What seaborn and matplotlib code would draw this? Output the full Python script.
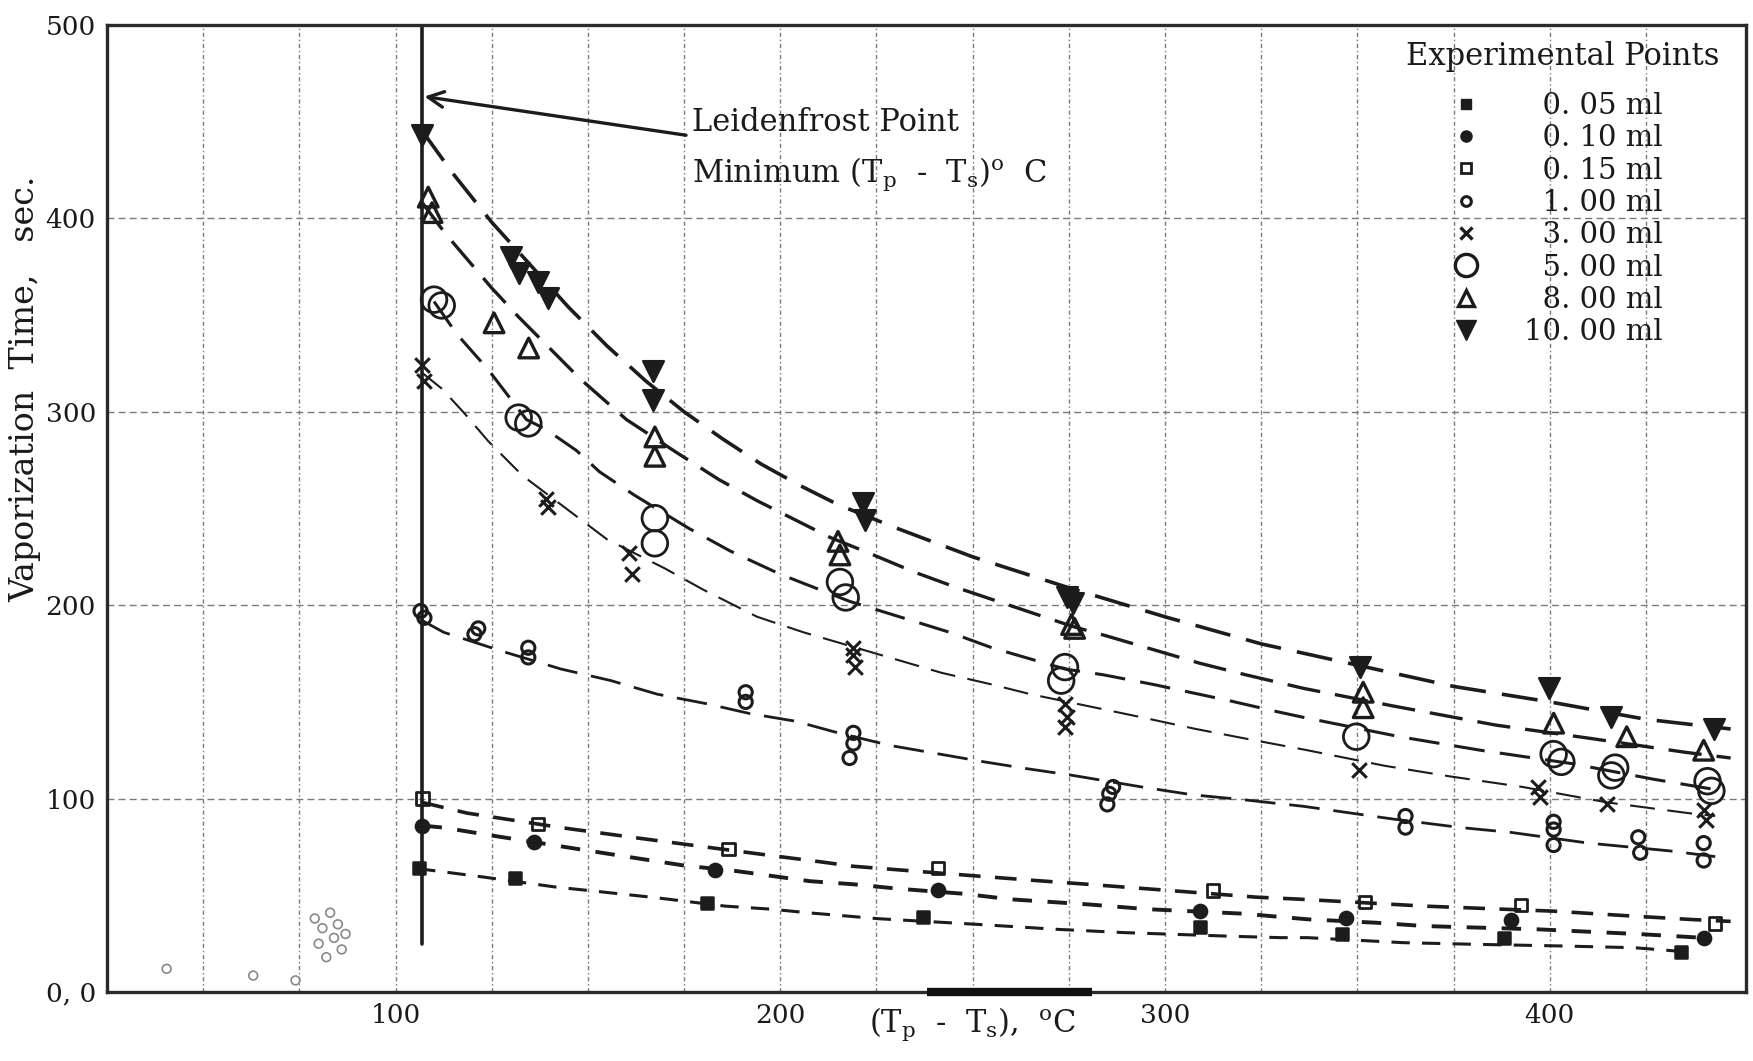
import numpy as np
import pandas as pd
import matplotlib
matplotlib.use("Agg")
import matplotlib.pyplot as plt
from matplotlib.lines import Line2D
import seaborn as sns

# ---------------- data ----------------
# Experimental points, x = (Tp - Ts) degC, y = vaporization time (s)
p005_x = [106, 131, 181, 237, 309, 346, 388, 434]
p005_y = [64, 59, 46, 39, 33.5, 30, 28, 20.5]

p010_x = [107, 136, 183, 241, 309, 347, 390, 440]
p010_y = [86, 77.5, 63, 52.5, 42, 38.5, 37, 28]

p015_x = [107, 137, 186.5, 241, 312.5, 352, 392.5, 443]
p015_y = [100, 87, 74, 64, 52.5, 46.5, 45, 35.5]

p1_x = [106.5, 107.5, 121.5, 120.5, 134.5, 134.5, 191, 191, 219, 219, 218,
        286.5, 285.5, 285, 362.5, 362.5, 401, 401, 401, 423, 423.5, 440, 440]
p1_y = [197, 193.5, 188, 185, 178, 173, 155, 150, 134, 128.5, 121,
        106, 102.5, 97, 91, 85, 88, 84, 76, 80, 72, 77, 68]

p3_x = [107, 107.5, 139, 139.5, 160.7, 161.5, 219, 219, 219.5, 274, 274.5, 274,
        350.5, 397, 397.5, 415, 440, 440.5]
p3_y = [324, 316, 255, 251, 227, 216, 178, 174, 168, 149, 142, 137,
        115, 106, 101, 97, 94, 89]

p5_x = [110, 112, 132, 134.5, 167.4, 167.4, 215.5, 217, 274, 273, 349.7,
        401, 403, 417, 416, 441, 442]
p5_y = [358, 355, 297, 294, 245, 232, 212, 204, 168, 161, 132,
        123, 119, 116, 112, 109, 104]

p8_x = [108.5, 109.5, 125.6, 134.6, 167.4, 167.4, 215, 215.5, 275.7, 276.5,
        351.5, 351.5, 401, 420, 440]
p8_y = [411, 403, 346, 333, 287, 277, 233, 226, 190, 188,
        155, 147, 139, 132, 125]

p10_x = [107, 130, 132, 137, 139.5, 167, 167, 221.5, 222, 274.4, 276.1,
         350.6, 399.8, 416, 442.6]
p10_y = [443, 380, 372, 367, 359, 321, 306, 253, 244, 204, 201,
         168, 157, 142, 136]

# stray marks in the low-temperature (nucleate boiling) region
stray_x = [40.5, 63, 74, 79, 81, 83, 84, 85, 86, 82, 87, 80]
stray_y = [12, 8.5, 6, 38, 33, 41, 28, 35, 22, 18, 30, 25]

# Dashed fitted curves
c10_x = [107, 115, 125, 135, 145, 155, 165, 175, 185, 195, 205, 215, 230, 250,
         275, 300, 325, 350, 375, 400, 425, 447]
c10_y = [445, 423, 398, 376, 354, 334, 316, 300, 286, 273, 262, 252, 240, 225,
         209, 194, 180, 169, 158, 150, 141, 136]

c8_x = [107, 113, 125, 132, 148, 160, 173, 184, 194, 204, 213, 223, 235, 246,
        276, 285, 309, 321, 336, 359, 386, 411, 435, 447]
c8_y = [408, 392, 364, 349, 317, 296, 279, 265, 254, 244, 235, 227, 217, 209,
        189, 184, 170, 164, 157, 148, 138, 131, 124, 121]

c5_x = [110, 116, 124, 134, 139, 147, 153, 162, 176, 187, 200, 218, 244, 255,
        274, 284, 297, 317, 329, 336, 361, 382, 406, 427, 445]
c5_y = [357, 340, 322, 296, 291, 280, 269, 257, 240, 228, 216, 202, 186, 178,
        167, 164, 159, 150.5, 145, 142, 132, 125, 118, 110, 104]

c3_x = [107, 112, 118, 124, 133, 147, 155, 170, 180, 194, 206, 230, 242, 255,
        265, 282, 294, 308, 321, 337, 357, 374, 393, 415, 436, 443]
c3_y = [320, 312, 299, 285, 267, 246, 234, 219, 208, 194, 186, 172, 165, 159,
        154, 147, 142, 136, 131, 125, 117, 111.5, 106, 98, 92.5, 91]

c1_x = [107, 112.5, 128, 143, 156, 168, 181, 192, 204, 215, 228.5, 240, 253,
        264, 276, 294, 307, 320, 336, 359, 377, 390, 410, 431, 443]
c1_y = [192, 186, 176, 167, 161, 154, 149, 144, 140, 134, 127.5, 123.5, 119,
        115.5, 112, 106, 102, 99.5, 96, 89.5, 85, 82.5, 77, 73, 70]

c015_x = [107, 118.6, 143, 163, 180.5, 198.6, 209, 219, 249, 266, 280.5, 303,
          324, 335, 367.5, 401, 422, 437.6, 447]
c015_y = [98, 92.5, 85, 79.6, 75, 70.3, 67.7, 65, 60.3, 57.7, 55.6, 52.2,
          49, 48, 44.4, 41.8, 39.2, 37.4, 36.5]

c010_x = [107, 112.5, 126, 142.4, 159, 175, 188.7, 207.7, 219, 230.7, 247.6,
          260, 280, 295.6, 320.3, 337, 355, 367.5, 397, 424.6, 440]
c010_y = [86, 85, 80.6, 75.5, 70.3, 65.4, 62.5, 57.3, 55.7, 53.4, 50.8,
          47.9, 45.3, 42.8, 40.5, 37.6, 35.8, 34.1, 32.4, 29.8, 28]

c005_x = [105.6, 111, 123, 141.5, 151.5, 167.5, 185.7, 197.8, 207, 225.5, 251,
          272, 289.5, 316, 330, 337, 362, 382, 403, 422, 434]
c005_y = [63.8, 62.5, 59.4, 54.3, 52.2, 48.8, 44.4, 42.8, 41, 37.9, 35,
          32.4, 30.7, 28.9, 28.1, 28.1, 25.5, 24.6, 23.8, 22.9, 21]

legend_title = "Experimental Points"
legend_labels = ["\u20070. 05 ml", "\u20070. 10 ml", "\u20070. 15 ml", "\u20071. 00 ml",
                 "\u20073. 00 ml", "\u20075. 00 ml", "\u20078. 00 ml", "10. 00 ml"]
x_tick_values = [100, 200, 300, 400]
y_tick_values = [0, 100, 200, 300, 400, 500]
y_tick_labels = ["0, 0", "100", "200", "300", "400", "500"]
leidenfrost_x = 107

# ---------------- styling ----------------
sns.set_theme(style="white")
plt.rcParams["font.family"] = ["DejaVu Serif"]
plt.rcParams["mathtext.fontset"] = "dejavuserif"

INK = "#1c1c1c"
TXT = "#1a1a1a"
fig = plt.figure(figsize=(17.53, 10.61), dpi=100)
ax = fig.add_axes([107 / 1753, 1 - 992 / 1061, (1746 - 107) / 1753, (992 - 25) / 1061])
ax.set_xlim(25, 451)
ax.set_ylim(0, 500)

# grid
for gx in range(50, 450, 25):
    ax.axvline(gx, color="#7a7a7a", lw=1.0, ls=(0, (3, 2, 1, 2)), zorder=0)
for gy in [100, 200, 300, 400]:
    ax.axhline(gy, color="#7a7a7a", lw=1.0, ls=(0, (5, 3)), zorder=0)
# heavy Leidenfrost line
ax.axvline(leidenfrost_x, ymin=0.05, ymax=1.0, color=INK, lw=2.6, zorder=1)

# fitted dashed curves
curves = [
    (c10_x, c10_y, 2.6, (0, (10, 4.5))),
    (c8_x, c8_y, 2.4, (0, (10, 4.5))),
    (c5_x, c5_y, 2.2, (0, (10, 5))),
    (c3_x, c3_y, 1.5, (0, (12, 6))),
    (c1_x, c1_y, 2.0, (0, (11, 5))),
    (c015_x, c015_y, 2.6, (0, (6, 4))),
    (c010_x, c010_y, 2.8, (0, (5, 4))),
    (c005_x, c005_y, 2.2, (0, (6, 4))),
]
for cx, cy, lw, ls in curves:
    sns.lineplot(x=cx, y=cy, ax=ax, color=INK, lw=lw, linestyle=ls,
                 sort=False, estimator=None, zorder=2)

# experimental points
def pts(x, y, marker, size, filled=True, lw=1.8):
    if filled:
        sns.scatterplot(x=x, y=y, ax=ax, marker=marker, s=size, color=INK,
                        edgecolor=INK, linewidth=lw, zorder=3)
    else:
        sns.scatterplot(x=x, y=y, ax=ax, marker=marker, s=size, facecolor="none",
                        edgecolor=INK, linewidth=lw, zorder=3)

pts(p005_x, p005_y, "s", 70)
pts(p010_x, p010_y, "o", 90)
pts(p015_x, p015_y, "s", 80, filled=False, lw=2.0)
pts(p1_x, p1_y, "o", 90, filled=False, lw=2.2)
sns.scatterplot(x=p3_x, y=p3_y, ax=ax, marker="x", s=110, color=INK, linewidth=2.2, zorder=3)
pts(p5_x, p5_y, "o", 340, filled=False, lw=2.0)
pts(p8_x, p8_y, "^", 200, filled=False, lw=2.4)
pts(p10_x, p10_y, "v", 220)
sns.scatterplot(x=stray_x, y=stray_y, ax=ax, marker="o", s=40, facecolor="none",
                edgecolor="#888888", linewidth=1.2, zorder=3)

# spines
for sp in ax.spines.values():
    sp.set_visible(True)
    sp.set_color("#2a2a2a")
    sp.set_linewidth(2.4)
ax.plot([238, 281], [0, 0], color="#111111", lw=6, solid_capstyle="butt",
        clip_on=False, zorder=5)

# ticks
ax.set_xticks(x_tick_values)
ax.set_xticklabels([str(v) for v in x_tick_values], fontsize=19)
ax.set_yticks(y_tick_values)
ax.set_yticklabels(y_tick_labels, fontsize=19)
ax.tick_params(axis="both", length=0, pad=8, colors=TXT)
ax.grid(False)

ax.set_ylabel("Vaporization  Time,   sec.", fontsize=24, color=TXT)
ax.yaxis.set_label_coords(-0.040, 0.624)
ax.set_xlabel("")
ax.annotate(r"(T$_{\rm p}$  -  T$_{\rm s}$),  $^{\rm o}$C", xy=(250, -0.033),
            xycoords=("data", "axes fraction"), ha="center", va="center",
            fontsize=22, color=TXT, annotation_clip=False)

# Leidenfrost annotation
ax.annotate("", xy=(leidenfrost_x + 0.5, 463), xytext=(175.5, 443),
            arrowprops=dict(arrowstyle="->", lw=2.4, color=INK, mutation_scale=28,
                            shrinkA=0, shrinkB=0))
ax.text(177, 445, "Leidenfrost Point", fontsize=22, va="baseline", ha="left", color=TXT)
ax.text(177, 419, r"Minimum (T$_{\rm p}$  -  T$_{\rm s}$)$^{\rm o}$  C", fontsize=22,
        va="baseline", ha="left", color=TXT)

# legend (title drawn as its own text line, entries below)
ax.text(403.4, 483.5, legend_title, fontsize=22, ha="center", va="center", color=TXT)
handles = [
    Line2D([], [], marker="s", ls="none", color=INK, markersize=7),
    Line2D([], [], marker="o", ls="none", color=INK, markersize=8),
    Line2D([], [], marker="s", ls="none", mfc="none", mec=INK, mew=2, markersize=7),
    Line2D([], [], marker="o", ls="none", mfc="none", mec=INK, mew=2.2, markersize=7),
    Line2D([], [], marker="x", ls="none", color=INK, mew=2.4, markersize=9),
    Line2D([], [], marker="o", ls="none", mfc="none", mec=INK, mew=2.4, markersize=16),
    Line2D([], [], marker="^", ls="none", mfc="none", mec=INK, mew=2.4, markersize=12),
    Line2D([], [], marker="v", ls="none", color=INK, markersize=14),
]
leg = ax.legend(handles, legend_labels, loc="upper center",
                bbox_to_anchor=(0.884, 0.946), frameon=False, fontsize=21,
                labelspacing=0.15, handletextpad=1.4,
                handlelength=1.2, borderpad=0.0)
for t in leg.get_texts():
    t.set_color(TXT)

fig.savefig("out.png", dpi=100, facecolor="white")
